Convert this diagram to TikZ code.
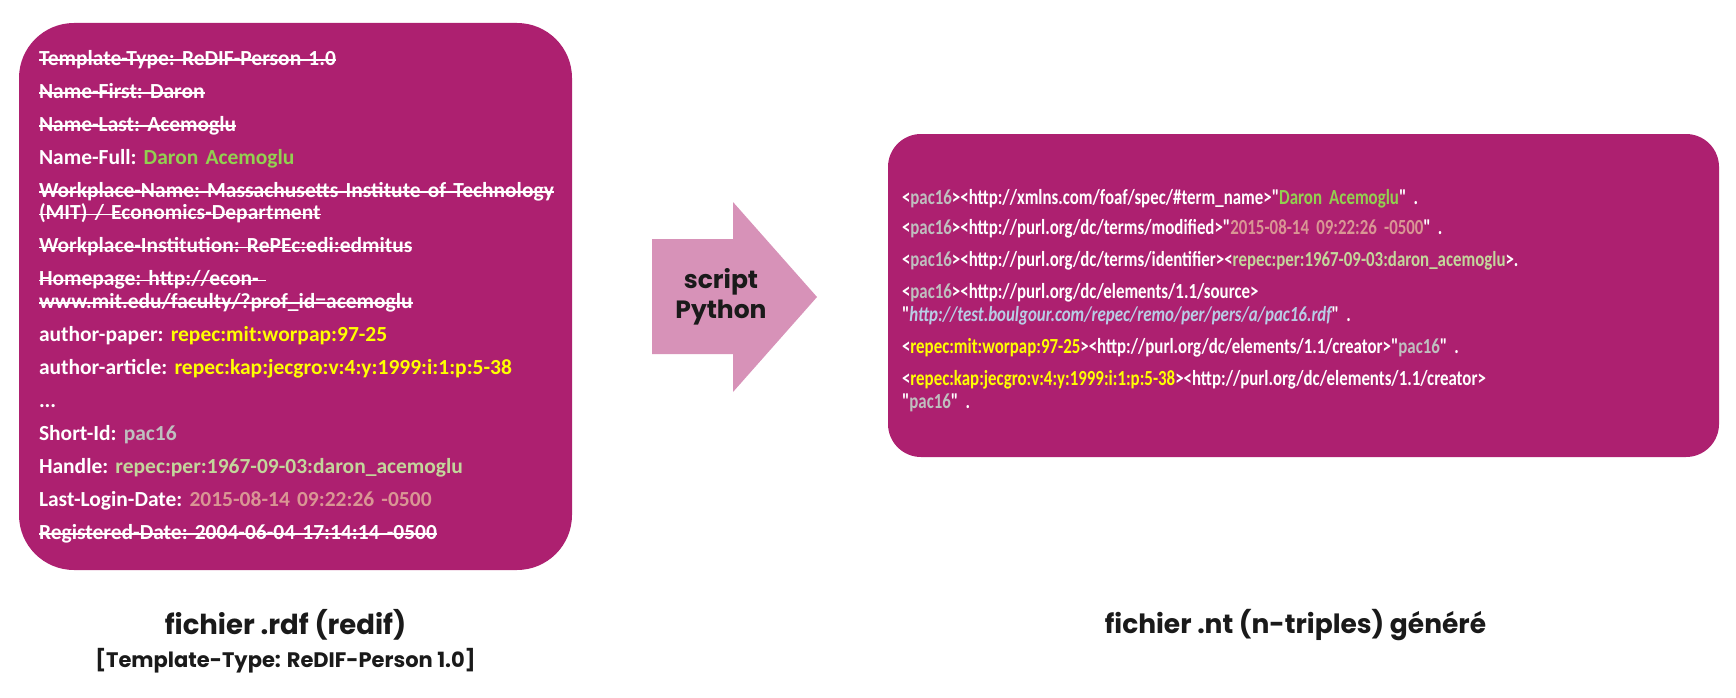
\documentclass[tikz,border=0pt]{standalone}
\usepackage{fontspec}
\setmainfont{Carlito}[WordSpace=0.85]
\newfontfamily\tripfont{Carlito}[FakeStretch=0.785, WordSpace=0.85]
\newfontfamily\capfont{Poppins}
\usetikzlibrary{positioning}
\definecolor{boxmag}{HTML}{AD2070}
\definecolor{arrowpink}{HTML}{D792B8}
\definecolor{valgreen}{HTML}{92D050}
\definecolor{valyellow}{HTML}{FFFF00}
\definecolor{valgray}{HTML}{BFBFBF}
\definecolor{valolive}{HTML}{C3D69B}
\definecolor{valpink}{HTML}{D99694}
\definecolor{valblue}{HTML}{B9CDE5}
\definecolor{capdark}{HTML}{1A1A1A}
\newsavebox{\strikebox}
\newcommand{\strikeout}[1]{\leavevmode\sbox{\strikebox}{#1}\rlap{\usebox{\strikebox}}\rule[0.2em]{\wd\strikebox}{1.7pt}}
\newcommand{\entrysep}{\\[10.5pt]}
\newcommand{\tripsep}{\\[9pt]}

\begin{document}
\begin{tikzpicture}[
    x=1pt, y=-1pt,
    font=\bfseries\frenchspacing,
    panel/.style={rectangle, fill=boxmag, text=white, align=left,
        inner ysep=0pt},
    label/.style={text=capdark, align=center, inner sep=0pt},
    caption/.style={label, font=\capfont\bfseries\fontsize{27.5}{30}\selectfont},
    subcaption/.style={label, font=\capfont\bfseries\fontsize{21}{23}\selectfont}
]
    \useasboundingbox (0,0) rectangle (1736,698);

    \node[panel, minimum width=553pt, minimum height=547pt, rounded corners=55pt,
        inner xsep=20pt, text width=513pt, font=\bfseries\frenchspacing\fontsize{21.5}{22.5}\selectfont] (rdf) at (295.5,296.5) {%
        \strikeout{Template-Type: ReDIF-Person 1.0}\entrysep
        \strikeout{Name-First: Daron}\entrysep
        \strikeout{Name-Last: Acemoglu}\entrysep
        Name-Full: \textcolor{valgreen}{Daron Acemoglu}\entrysep
        \strikeout{Workplace-Name: Massachusetts Institute of Technology}\\
        \strikeout{(MIT) / Economics-Department}\entrysep
        \strikeout{Workplace-Institution: RePEc:edi:edmitus}\entrysep
        \strikeout{Homepage: http://econ- }\\
        \strikeout{www.mit.edu/faculty/?prof\_id=acemoglu}\entrysep
        author-paper: \textcolor{valyellow}{repec:mit:worpap:97-25}\entrysep
        author-article: \textcolor{valyellow}{repec:kap:jecgro:v:4:y:1999:i:1:p:5-38}\entrysep
        ...\entrysep
        Short-Id: \textcolor{valgray}{pac16}\entrysep
        Handle: \textcolor{valolive}{repec:per:1967-09-03:daron\_acemoglu}\entrysep
        Last-Login-Date: \textcolor{valpink}{2015-08-14 09:22:26 -0500}\entrysep
        \strikeout{Registered-Date: 2004-06-04 17:14:14 -0500}};

    \node[panel, minimum width=831pt, minimum height=323pt, rounded corners=33pt,
        inner xsep=14pt, text width=803pt, font=\tripfont\bfseries\frenchspacing\fontsize{21.5}{23}\selectfont] (nt) at (1303.5,295.5) {%
        \rule{0pt}{26pt}<\textcolor{valgray}{pac16}><http://xmlns.com/foaf/spec/\#term\_name>"\textcolor{valgreen}{Daron Acemoglu}" .\\[7pt]
        <\textcolor{valgray}{pac16}><http://purl.org/dc/terms/modified>"\textcolor{valpink}{2015-08-14 09:22:26 -0500}" .\tripsep
        <\textcolor{valgray}{pac16}><http://purl.org/dc/terms/identifier><\textcolor{valolive}{repec:per:1967-09-03:daron\_acemoglu}>.\tripsep
        <\textcolor{valgray}{pac16}><http://purl.org/dc/elements/1.1/source>\\
        "\textcolor{valblue}{\itshape http://test.boulgour.com/repec/remo/per/pers/a/pac16.rdf}" .\tripsep
        <\textcolor{valyellow}{repec:mit:worpap:97-25}><http://purl.org/dc/elements/1.1/creator>"\textcolor{valgray}{pac16}" .\tripsep
        <\textcolor{valyellow}{repec:kap:jecgro:v:4:y:1999:i:1:p:5-38}><http://purl.org/dc/elements/1.1/creator>\\
        "\textcolor{valgray}{pac16}" .};

    % block arrow between the two files
    \fill[arrowpink] (652,239) -- (733,239) -- (733,202) -- (817,297)
        -- (733,392) -- (733,354) -- (652,354) -- cycle;
    \node[label, font=\capfont\bfseries\fontsize{25}{30.5}\selectfont] (conv) at (721,297) {script\\Python};

    \node[caption, below=39pt of rdf, xshift=-10pt] (rdfcap) {fichier .rdf (redif)};
    \node[subcaption, below=8pt of rdfcap] (rdftype) {[Template-Type: ReDIF-Person 1.0]};
    \node[caption, xshift=-8pt, font=\capfont\bfseries\fontsize{26.5}{30}\selectfont] (ntcap) at (nt.south |- rdfcap) {fichier .nt (n-triples) généré};
\end{tikzpicture}
\end{document}
